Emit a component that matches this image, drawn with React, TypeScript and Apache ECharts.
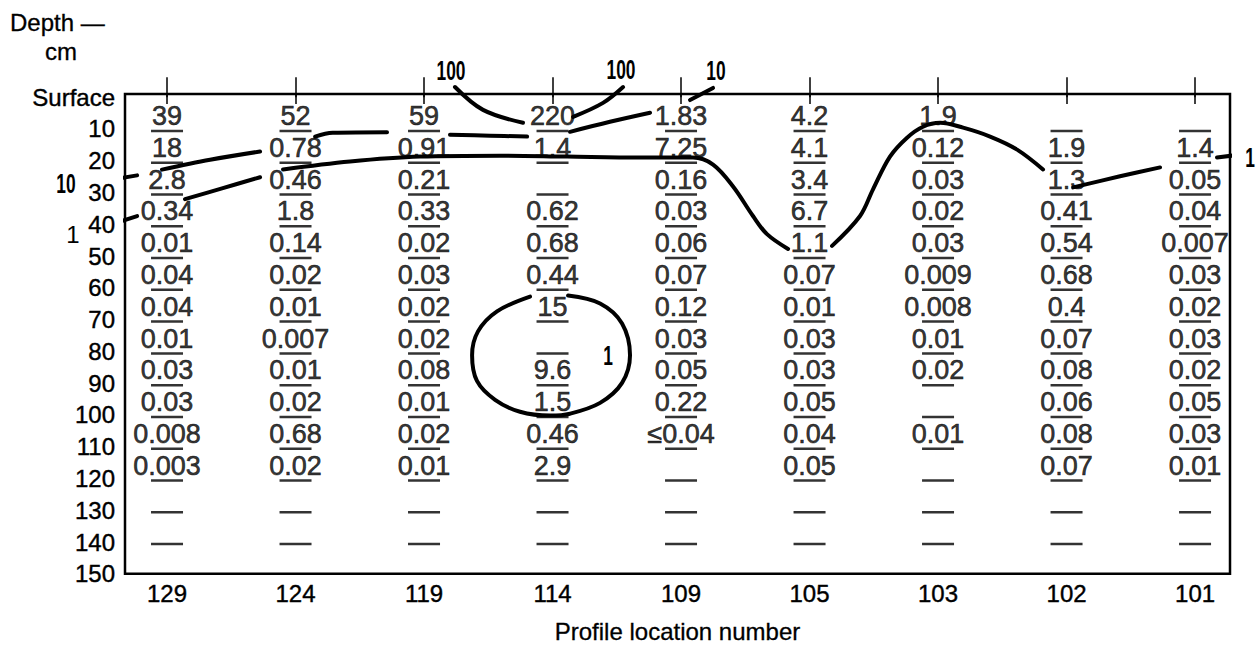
import React, { useEffect, useRef } from "react";
import * as echarts from "echarts";

// Profile locations (x axis categories, evenly spaced)
const locations = ["129", "124", "119", "114", "109", "105", "103", "102", "101"];
// Depth axis tick labels (cm)
const depthTicks = [0, 10, 20, 30, 40, 50, 60, 70, 80, 90, 100, 110, 120, 130, 140, 150];
// Mid-depths of the 10-cm sampling intervals
const rowDepths = [5, 15, 25, 35, 45, 55, 65, 75, 85, 95, 105, 115];
// Interval boundaries drawn as short bars
const boundaryDepths = [10, 20, 30, 40, 50, 60, 70, 80, 90, 100, 110, 120, 130, 140];

// Values per profile, one per interval ("" = no sample)
const col129 = ["39", "18", "2.8", "0.34", "0.01", "0.04", "0.04", "0.01", "0.03", "0.03", "0.008", "0.003"];
const col124 = ["52", "0.78", "0.46", "1.8", "0.14", "0.02", "0.01", "0.007", "0.01", "0.02", "0.68", "0.02"];
const col119 = ["59", "0.91", "0.21", "0.33", "0.02", "0.03", "0.02", "0.02", "0.08", "0.01", "0.02", "0.01"];
const col114 = ["220", "1.4", "", "0.62", "0.68", "0.44", "15", "", "9.6", "1.5", "0.46", "2.9"];
const col109 = ["1.83", "7.25", "0.16", "0.03", "0.06", "0.07", "0.12", "0.03", "0.05", "0.22", "≤0.04", ""];
const col105 = ["4.2", "4.1", "3.4", "6.7", "1.1", "0.07", "0.01", "0.03", "0.03", "0.05", "0.04", "0.05"];
const col103 = ["1.9", "0.12", "0.03", "0.02", "0.03", "0.009", "0.008", "0.01", "0.02", "", "0.01", ""];
const col102 = ["", "1.9", "1.3", "0.41", "0.54", "0.68", "0.4", "0.07", "0.08", "0.06", "0.08", "0.07"];
const col101 = ["", "1.4", "0.05", "0.04", "0.007", "0.03", "0.02", "0.03", "0.02", "0.05", "0.03", "0.01"];
const columns = [col129, col124, col119, col114, col109, col105, col103, col102, col101];

// Isolines, [location index, depth cm], broken where they cross the numbers
const contour10 = [
  [[-0.56, 26.8], [-0.233, 24.6]],
  [[-0.039, 22.8], [0.335, 19.7], [0.724, 17.1]],
  [[1.152, 12.4], [1.29, 11.2], [1.712, 11.0]],
  [[2.202, 11.8], [2.514, 12.1], [2.802, 12.4]],
  [[3.136, 10.9], [3.447, 7.75], [3.759, 4.9]],
  [[4.07, 0.9], [4.249, -2.9]],
];
const contour1 = [
  [[-0.42, 39.9], [-0.233, 37.4]],
  [[0.14, 32.1], [0.428, 28.7], [0.724, 25.2]],
  [
    [0.903, 22.75], [1.424, 20.25], [1.969, 18.7], [2.591, 18.4], [3.113, 18.7], [3.681, 19.0],
    [4.093, 19.0], [4.249, 21.2], [4.405, 28.1], [4.56, 37.4], [4.669, 43.1], [4.833, 47.75],
  ],
  [
    [5.175, 46.8], [5.393, 37.4], [5.494, 29.0], [5.626, 18.7], [5.759, 12.75], [5.883, 9.3],
    [6.016, 8.06], [6.195, 9.6], [6.405, 12.4], [6.615, 16.5], [6.817, 22.75],
  ],
  [[7.051, 28.4], [7.416, 24.9], [7.728, 22.1]],
  [[8.171, 19.0], [8.35, 18.06]],
];
const contour100 = [
  [[2.241, -3.2], [2.459, 4.0], [2.77, 8.06]],
  [[3.16, 6.2], [3.393, 1.8], [3.549, -3.2]],
];
const contourLoop = [
  [
    [3.121, 62.4], [3.37, 64.9], [3.541, 71.2], [3.603, 81.2], [3.541, 89.9], [3.37, 96.2],
    [3.136, 99.6], [2.981, 100.2], [2.747, 99.0], [2.553, 95.25], [2.412, 89.3], [2.374, 81.2],
    [2.42, 73.7], [2.568, 67.4], [2.825, 62.75],
  ],
];
const contourLabelText = ["100", "100", "10", "10", "1", "1", "1"];
const contourLabelPos = [
  [2.21, -8.5], [3.533, -8.8], [4.272, -8.5], [-0.786, 27.1], [-0.732, 43.1], [8.428, 19.0], [3.432, 81.2],
];
const contourLabelBold = [true, true, true, true, false, true, true];

const FONT = "'Liberation Sans', Arial, sans-serif";

export default function App() {
  const ref = useRef<HTMLDivElement>(null);
  useEffect(() => {
    const chart = echarts.init(ref.current!, null, { renderer: "svg" });

    const valueData: any[] = [];
    columns.forEach((col, ci) =>
      col.forEach((t, r) => {
        if (t) valueData.push({ name: t, value: [ci, rowDepths[r]] });
      })
    );
    const barData: any[] = [];
    columns.forEach((_c, ci) => boundaryDepths.forEach((d) => barData.push([ci, d])));

    const lineSeries: any[] = [];
    [contour10, contour1, contour100, contourLoop].forEach((curve) =>
      curve.forEach((seg) =>
        lineSeries.push({
          type: "line",
          data: seg,
          smooth: 0.35,
          symbol: "none",
          clip: false,
          silent: true,
          z: 4,
          lineStyle: { color: "#000", width: 4, cap: "round" },
        })
      )
    );

    const labelData = contourLabelText.map((_t, i) => [contourLabelPos[i][0], contourLabelPos[i][1], i]);

    const idx = locations.map((_l, i) => i);

    chart.setOption({
      animation: false,
      backgroundColor: "#fff",
      grid: { left: 125, right: 29, top: 94, bottom: 72, show: true, borderColor: "#000", borderWidth: 2.5 },
      xAxis: [
        {
          type: "value",
          min: -0.327,
          max: 8.272,
          position: "bottom",
          axisLine: { show: false },
          splitLine: { show: false },
          axisTick: { show: true, inside: true, length: 20, customValues: idx, lineStyle: { color: "#000", width: 1.5 } },
          axisLabel: {
            customValues: idx,
            formatter: (v: number) => locations[Math.round(v)] ?? "",
            color: "#000",
            fontSize: 24,
            fontFamily: FONT,
            margin: 8,
            textBorderColor: "#000",
            textBorderWidth: 0.4,
          },
          name: "Profile location number",
          nameLocation: "middle",
          nameGap: 46,
          nameTextStyle: { color: "#000", fontSize: 24, fontFamily: FONT, letterSpacing: 1, textBorderColor: "#000", textBorderWidth: 0.3 },
        },
        {
          type: "value",
          min: -0.327,
          max: 8.272,
          position: "top",
          axisLine: { show: false },
          splitLine: { show: false },
          axisTick: { show: true, inside: true, length: 10, customValues: idx, lineStyle: { color: "#000", width: 1.5 } },
          axisLabel: { show: false },
        },
      ],
      yAxis: {
        type: "value",
        inverse: true,
        min: -1,
        max: 150,
        axisLine: { show: false },
        axisTick: { show: false },
        splitLine: { show: false },
        axisLabel: {
          customValues: depthTicks,
          formatter: (v: number) => (v === 0 ? "Surface" : String(v)),
          color: "#000",
          fontSize: 24,
          fontFamily: FONT,
          margin: 10,
          textBorderColor: "#000",
          textBorderWidth: 0.4,
        },
      },
      graphic: [
        { type: "text", x: 10, y: 22, style: { text: "Depth —", fill: "#000", stroke: "#000", lineWidth: 0.3, font: `24px ${FONT}`, verticalAlign: "middle" } },
        { type: "text", x: 45, y: 51, style: { text: "cm", fill: "#000", stroke: "#000", lineWidth: 0.3, font: `24px ${FONT}`, verticalAlign: "middle" } },
      ],
      series: [
        {
          type: "scatter",
          data: barData,
          symbol: "rect",
          symbolSize: [32, 2.5],
          symbolOffset: [0, 2],
          itemStyle: { color: "#000" },
          silent: true,
          z: 2,
        },
        {
          type: "scatter",
          data: valueData,
          symbolSize: 1,
          itemStyle: { color: "rgba(0,0,0,0)" },
          silent: true,
          z: 3,
          label: {
            show: true,
            position: "inside",
            formatter: "{b}",
            color: "#000",
            fontSize: 27,
            lineHeight: 28,
            fontFamily: FONT,
            offset: [0, 3],
            textBorderColor: "#000",
            textBorderWidth: 0.6,
          },
        },
        ...lineSeries,
        {
          type: "custom",
          data: labelData,
          clip: false,
          silent: true,
          z: 5,
          renderItem: (_params: any, api: any) => {
            const i = api.value(2);
            const p = api.coord([api.value(0), api.value(1)]);
            const bold = contourLabelBold[i];
            return {
              type: "text",
              x: p[0],
              y: p[1],
              scaleX: bold ? 0.62 : 1,
              style: {
                text: contourLabelText[i],
                fill: "#000",
                font: `${bold ? "bold " : ""}${bold ? 28 : 24}px ${FONT}`,
                align: "center",
                verticalAlign: "middle",
              },
            };
          },
        },
      ],
    });
    return () => chart.dispose();
  }, []);
  return <div ref={ref} style={{ position: "fixed", left: 0, top: 0, width: 1259, height: 649, background: "#fff" }} />;
}
